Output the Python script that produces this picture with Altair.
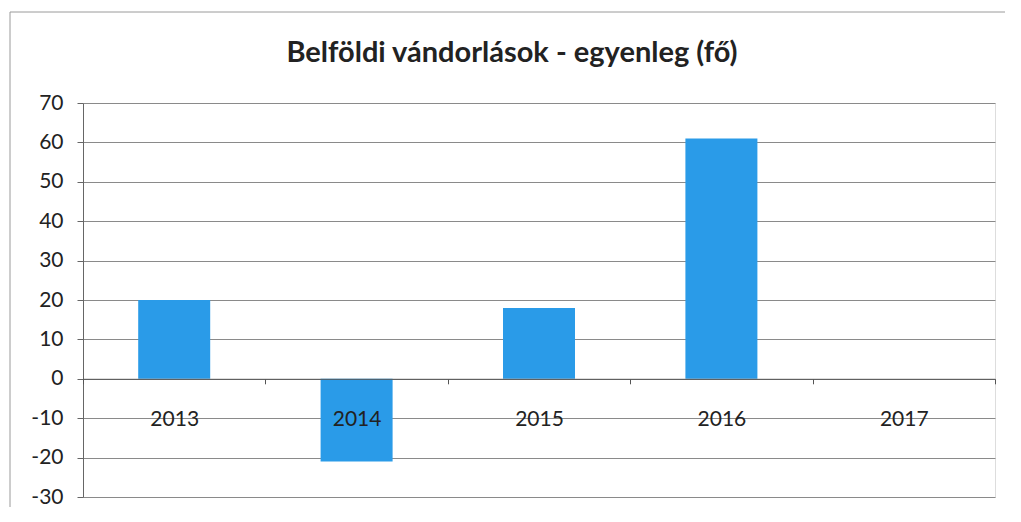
import altair as alt
import pandas as pd

years = ["2013", "2014", "2015", "2016", "2017"]
values = [20, -21, 18, 61, 0]
title_text = "Belföldi vándorlások - egyenleg (fő)"
y_ticks = [-30, -20, -10, 0, 10, 20, 30, 40, 50, 60, 70]

df = pd.DataFrame({"year": years, "value": values})

W, H = 912, 394
FONT = "Lato"

base = alt.Chart(df)
one = base.transform_filter(alt.datum.year == "2013")

frame = one.mark_rect(fill=None, stroke="#9a9a9a", strokeWidth=1).encode(
    x=alt.value(-73), x2=alt.value(925), y=alt.value(-91), y2=alt.value(430)
)

title = one.mark_text(text=title_text, font=FONT, fontSize=29, fontWeight="bold",
                      color="#222", align="center", baseline="middle").encode(
    x=alt.value(429), y=alt.value(-50)
)

bars = base.mark_bar(color="#2A9BE8", size=72).encode(
    x=alt.X("year:N", sort=years, scale=alt.Scale(paddingInner=0, paddingOuter=0),
            axis=alt.Axis(title=None, labelAngle=0, labelFontSize=21, labelFont=FONT,
                          labelColor="#222", labelPadding=25, tickBand="extent",
                          ticks=True, tickSize=5, tickColor="#555", domainColor="#555",
                          offset=-0.3 * H, grid=False, zindex=1)),
    y=alt.Y("value:Q", scale=alt.Scale(domain=[-30, 70], nice=False),
            axis=alt.Axis(title=None, values=y_ticks, labelFontSize=21, labelFont=FONT,
                          labelColor="#222", labelPadding=14, tickSize=6, tickColor="#666",
                          labelExpr="'' + datum.value",
                          domainColor="#666", gridColor="#8a8a8a", gridWidth=1)),
)

chart = alt.layer(frame, title, bars).properties(
    width=W, height=H,
    autosize=alt.AutoSizeParams(type="none"),
    padding={"left": 75, "top": 95, "right": 10, "bottom": 10},
).configure_view(stroke=None).configure(background="white")

chart.save("out.html", embed_options={"renderer": "svg", "actions": False})
